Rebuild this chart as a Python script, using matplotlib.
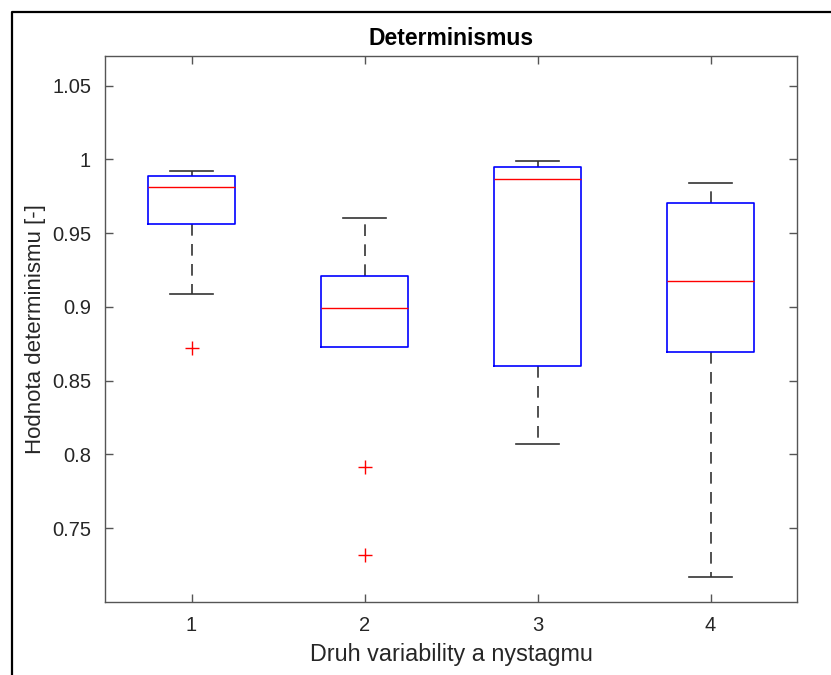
import matplotlib
matplotlib.use("Agg")
import matplotlib.pyplot as plt
from matplotlib.lines import Line2D

plt.rcParams['font.family'] = ['Liberation Sans', 'DejaVu Sans']

categories = ['1', '2', '3', '4']
whisker_low = [0.9087, 0.8728, 0.8071, 0.7169]
q1 = [0.9562, 0.8728, 0.8599, 0.8694]
median = [0.9812, 0.8992, 0.9867, 0.9175]
q3 = [0.9887, 0.9209, 0.9948, 0.9704]
whisker_high = [0.9920, 0.9602, 0.9989, 0.9840]
outliers = [[0.8721], [0.7915, 0.7319], [], []]
yticks = [0.75, 0.8, 0.85, 0.9, 0.95, 1.0, 1.05]
ytick_labels = ['0.75', '0.8', '0.85', '0.9', '0.95', '1', '1.05']

W, H = 831, 675
fig = plt.figure(figsize=(W / 100, H / 100), dpi=100)
fig.patch.set_facecolor('white')
ax = fig.add_axes([105 / W, 1 - 602 / H, (797 - 105) / W, (602 - 56) / H])

stats = []
for i in range(len(categories)):
    stats.append(dict(med=median[i], q1=q1[i], q3=q3[i],
                      whislo=whisker_low[i], whishi=whisker_high[i],
                      fliers=outliers[i], label=categories[i]))

res = ax.bxp(stats, positions=range(1, len(categories) + 1), widths=0.5,
             capwidths=0.25, showfliers=True,
             boxprops=dict(color='#0000ff', linewidth=1.2, zorder=3),
             medianprops=dict(color='#ff0000', linewidth=1.0, zorder=4),
             whiskerprops=dict(color='#333333', linewidth=1.2, linestyle=(0, (7, 5)), zorder=2),
             capprops=dict(color='#333333', linewidth=1.2, zorder=2),
             flierprops=dict(marker='+', markeredgecolor='#ff0000', markersize=10,
                             markeredgewidth=1.0, linestyle='none'))

# hide zero-length lower whisker caps (drawn under the box edge in the original)
for i in range(len(categories)):
    if whisker_low[i] >= q1[i]:
        res['caps'][2 * i].set_visible(False)

ax.set_xlim(0.5, 4.5)
ax.set_ylim(0.70, 1.07)
ax.set_yticks(yticks)
ax.set_yticklabels(ytick_labels)
ax.set_xticks(range(1, len(categories) + 1))
ax.set_xticklabels(categories)

axcol = '#262626'
for s in ax.spines.values():
    s.set_color('#555555')
    s.set_linewidth(1.0)
ax.tick_params(direction='in', length=6, width=1.0, color='#555555',
               labelsize=14.5, labelcolor=axcol, top=True, right=True,
               pad=10)
ax.set_title('Determinismus', fontsize=16.5, fontweight='bold', color='black', pad=8)
ax.set_xlabel('Druh variability a nystagmu', fontsize=16.8, color=axcol, labelpad=6)
ax.set_ylabel('Hodnota determinismu [-]', fontsize=16, color=axcol, labelpad=4)

# screenshot frame
fig.add_artist(Line2D([12 / W, 12 / W, 1.0], [0.0, 1 - 12 / H, 1 - 12 / H],
                      transform=fig.transFigure, color='black', linewidth=1.6))

fig.savefig('out.png', dpi=100, facecolor='white')
